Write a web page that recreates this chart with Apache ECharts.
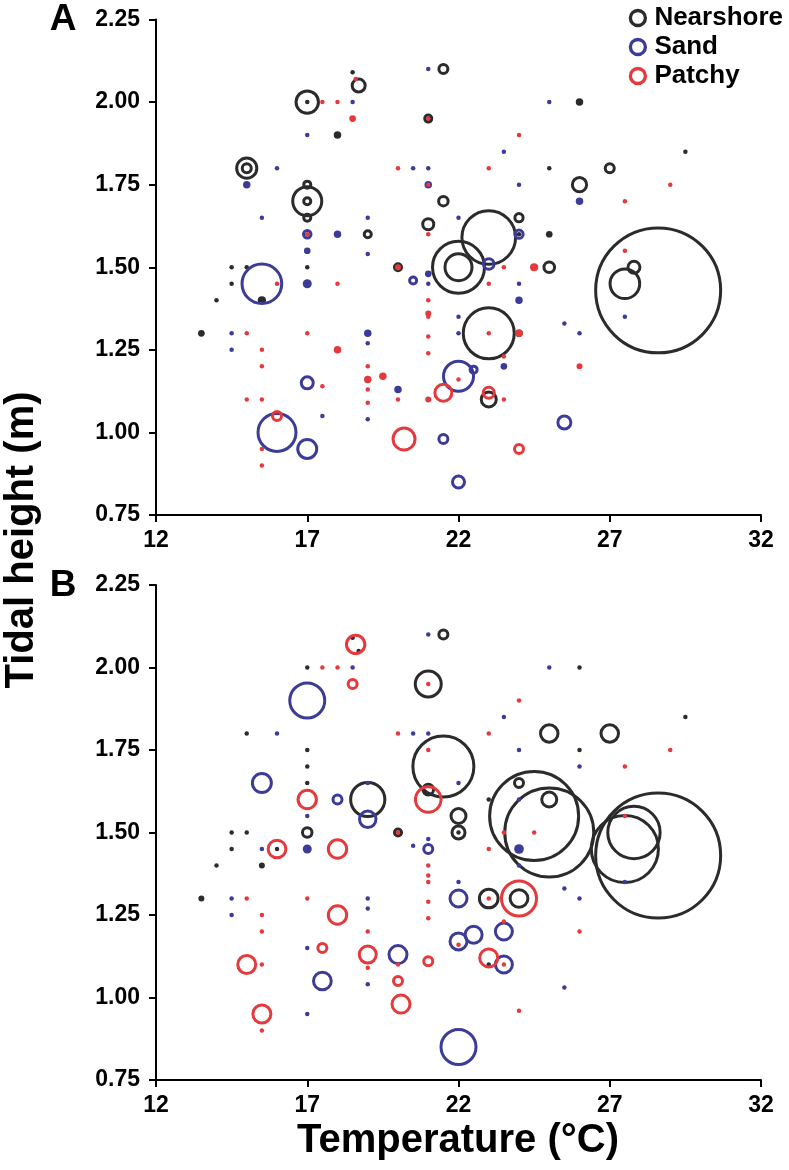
<!DOCTYPE html>
<html>
<head>
<meta charset="utf-8">
<script src="https://cdn.jsdelivr.net/npm/echarts@6/dist/echarts.min.js"></script>
<style>
html,body{margin:0;padding:0;background:#fff;}
#chart{width:789px;height:1170px;}
</style>
</head>
<body>
<div id="chart"></div>
<script>
// [temperature °C, tidal height m, abundance]
const seriesNames = ['Nearshore', 'Sand', 'Patchy'];
const xTicks = { min: 12, max: 32, step: 5 };
const yTicks = { min: 0.75, max: 2.25, step: 0.25 };

const nearshoreA = [
[18.5,2.09,1],[18.7,2.05,75],[17,2.00,223],[17,2.00,1],[21.5,2.10,36],[18,1.90,9],
[15,1.80,180],[15,1.80,36],[17,1.70,374],[17,1.70,22],[17,1.75,22],[17,1.65,22],
[21.5,1.70,40],[21,1.63,54],[19,1.60,22],[21,1.95,22],[20,1.50,22],
[14.5,1.50,1],[15,1.50,1],[17,1.50,1],[14.5,1.45,1],[14,1.40,1],[15.5,1.40,12],[13.5,1.30,6],
[26,2.00,9],[29.5,1.85,1],[25,1.80,1],[27,1.80,36],[26,1.75,90],[24,1.65,30],
[23,1.59,1280],[25,1.60,6],[22,1.50,1200],[22,1.50,324],[25,1.50,50],[27.8,1.50,64],
[27.5,1.45,390],[28.6,1.43,6944],[23,1.30,1156],[24,1.30,9],[23,1.10,100],[24,1.60,1]
];
const sandA = [
[21,2.10,1],[18.5,2.00,1],[17,1.90,1],[16,1.80,1],[20.5,1.80,1],[21,1.80,1],
[15,1.75,9],[21,1.75,9],[15.5,1.65,1],[19,1.65,1],[17,1.60,25],[18,1.60,9],
[17,1.55,6],[19,1.54,1],[15.5,1.45,700],[17,1.45,16],[20.5,1.46,22],[21,1.48,6],[21,1.45,1],
[14.5,1.30,1],[19,1.30,9],[19,1.27,1],[14.5,1.25,1],[17,1.15,64],[20,1.13,9],
[17.5,1.05,1],[19,1.04,1],[16,1.00,640],[17,0.95,160],[21.5,0.98,36],[22,0.85,64],
[25,2.00,1],[23.5,1.85,1],[24,1.75,1],[26,1.70,9],[22,1.65,1],[24,1.60,30],[23,1.51,50],
[24,1.45,1],[24,1.40,9],[22,1.35,1],[22,1.30,1],[25.5,1.33,1],[26,1.30,1],[27.5,1.35,1],
[23.5,1.20,6],[22,1.17,400],[22.5,1.19,22],[25.5,1.03,75]
];
const patchyA = [
[18.6,2.07,1],[17.5,2.00,1],[18,2.00,1],[18.5,1.95,6],[21,1.95,1],[20,1.80,1],[21,1.75,1],
[21,1.60,1],[17,1.60,1],[20,1.50,4],[16,1.45,1],[18,1.45,1],
[21,1.40,1],[21,1.36,4],[21,1.35,1],[21,1.29,1],[21,1.24,1],
[15,1.30,1],[17,1.30,1],[15.5,1.25,1],[18,1.25,9],[15.5,1.20,1],[17.5,1.14,1],
[19,1.20,1],[19,1.16,9],[19.5,1.17,9],[19,1.13,1],[19,1.09,1],[20,1.10,1],
[21.5,1.12,128],[21,1.10,4],[15,1.10,1],[15.5,1.10,1],[16,1.05,36],[15.5,0.95,1],[15.5,0.90,1],
[20.2,0.98,215],
[24,1.90,1],[23,1.80,1],[29,1.75,1],[27.5,1.70,1],[27.5,1.55,1],[23.5,1.50,1],[24.5,1.50,12],
[23,1.45,1],[23,1.30,1],[24,1.30,9],[23.5,1.23,1],[26,1.20,4],[22,1.16,1],[23,1.12,54],
[23.5,1.10,1],[24,0.95,36]
];
const nearshoreB = [
[18.5,2.09,1],[18.7,2.05,1],[21.5,2.10,36],[17,2.00,1],[21,1.95,300],[26,2.00,1],
[15,1.80,1],[25,1.80,136],[27,1.80,136],[29.5,1.85,1],[26,1.75,1],
[17,1.75,1],[17,1.70,1],[17,1.65,1],[21.5,1.70,1654],[19,1.60,520],[21,1.63,50],
[22,1.55,100],[22,1.50,75],[22,1.50,1],[17,1.50,40],[20,1.50,22],
[14.5,1.50,1],[15,1.50,1],[14.5,1.45,1],[14,1.40,1],[15.5,1.40,4],[13.5,1.30,4],[16,1.45,1],
[24,1.65,36],[25,1.60,100],[24.5,1.55,3520],[25,1.50,3520],[23,1.60,1],
[23,1.30,155],[24,1.30,140],[28.6,1.43,6944],[27.5,1.45,2000],[27.8,1.50,1217],[23,1.10,1]
];
const sandB = [
[21,2.10,1],[18.5,2.00,1],[17,1.90,544],[16,1.80,1],[20.5,1.80,1],[21,1.80,1],
[15.5,1.65,160],[22,1.65,1],[19,1.65,1],[18,1.60,36],[19,1.54,120],[17,1.55,1],
[17,1.45,16],[15.5,1.45,1],[20.5,1.46,1],[21,1.48,1],[21,1.45,36],
[14.5,1.30,1],[19,1.30,1],[19,1.27,1],[14.5,1.25,1],[17,1.15,1],[20,1.13,144],
[17.5,1.05,140],[19,1.04,1],[17,0.95,1],[22,0.85,544],
[25,2.00,1],[23.5,1.85,1],[24,1.75,1],[26,1.70,1],[24,1.60,1],[24,1.45,20],[24,1.40,1],
[22,1.35,1],[22,1.30,128],[25.5,1.33,1],[26,1.30,1],[27.5,1.35,1],
[23.5,1.20,128],[22.5,1.19,128],[22,1.17,128],[23.5,1.10,128],[25.5,1.03,1]
];
const patchyB = [
[18.6,2.07,150],[17.5,2.00,1],[18,2.00,1],[18.5,1.95,36],[21,1.95,1],
[24,1.90,1],[23,1.80,1],[29,1.75,1],[27.5,1.70,1],[20,1.80,1],[21,1.75,1],
[17,1.60,150],[21,1.60,290],[20,1.50,1],[23.5,1.50,1],[24.5,1.50,1],[23,1.45,1],[27.5,1.55,1],
[16,1.45,140],[18,1.45,150],[15,1.30,1],[17,1.30,1],
[21,1.40,1],[21,1.37,1],[21,1.35,1],[21,1.29,1],[21,1.24,1],
[15.5,1.25,1],[18,1.25,150],[15.5,1.20,1],[19,1.20,1],[17.5,1.15,36],[19,1.13,128],
[19,1.09,1],[20,1.10,1],[21,1.11,36],[15,1.10,144],[15.5,1.10,1],[20,1.05,36],
[20.1,0.98,144],[15.5,0.95,144],[15.5,0.90,1],[23,1.30,1],[24,1.30,544],
[23.5,1.23,1],[26,1.20,1],[22,1.16,1],[23,1.12,144],[23.5,1.10,1],[24,0.96,1]
];

const colors = { Nearshore: '#2b2b2b', Sand: '#3c3c98', Patchy: '#e5393c' };
const FONT = "'Liberation Sans', Arial, Helvetica, sans-serif";
const RING = 3;
const SOLID_MAX = 20; // small abundances are drawn as solid dots

function toItems(data, name) {
  return data.map(d => {
    const s = 1.5 * Math.sqrt(d[2]);
    if (d[2] <= SOLID_MAX) {
      return { value: d, symbolSize: s + RING,
        itemStyle: { color: colors[name], borderWidth: 0 } };
    }
    return { value: d, symbolSize: s };
  });
}

function xAxis(idx) {
  return {
    type: 'value', gridIndex: idx, min: xTicks.min, max: xTicks.max, interval: xTicks.step,
    splitLine: { show: false },
    axisLine: { show: true, onZero: false, lineStyle: { color: '#000', width: 2 } },
    axisTick: { show: true, length: 7, lineStyle: { color: '#000', width: 2 } },
    axisLabel: { color: '#000', fontSize: 23, fontWeight: 'bold', fontFamily: FONT, margin: 14 }
  };
}
function yAxis(idx) {
  return {
    type: 'value', gridIndex: idx, min: yTicks.min, max: yTicks.max, interval: yTicks.step,
    splitLine: { show: false },
    axisLine: { show: true, onZero: false, lineStyle: { color: '#000', width: 2 } },
    axisTick: { show: true, length: 7, lineStyle: { color: '#000', width: 2 } },
    axisLabel: { color: '#000', fontSize: 23, fontWeight: 'bold', fontFamily: FONT, margin: 16,
      formatter: v => v.toFixed(2) }
  };
}
function sc(name, data, idx) {
  return {
    type: 'scatter', name, data: toItems(data, name), xAxisIndex: idx, yAxisIndex: idx,
    symbol: 'circle',
    itemStyle: { color: 'rgba(0,0,0,0)', borderColor: colors[name], borderWidth: RING, opacity: 1 },
    emphasis: { disabled: true }, silent: true, animation: false
  };
}

const chart = echarts.init(document.getElementById('chart'), null, { renderer: 'canvas' });
chart.setOption({
  backgroundColor: '#fff',
  animation: false,
  grid: [
    { left: 156, top: 19.5, width: 605, height: 495.5 },
    { left: 156, top: 585, width: 605, height: 495 }
  ],
  xAxis: [xAxis(0), xAxis(1)],
  yAxis: [yAxis(0), yAxis(1)],
  legend: {
    orient: 'vertical', align: 'left', right: 6, top: 5, itemGap: 3, itemWidth: 15, itemHeight: 15,
    icon: 'circle', selectedMode: false, padding: 0,
    textStyle: { color: '#000', fontSize: 26, fontWeight: 'bold', fontFamily: FONT, lineHeight: 20, padding: [0, 0, 0, 4] },
    data: seriesNames.map(n => ({ name: n, itemStyle: { color: 'rgba(0,0,0,0)', borderColor: colors[n], borderWidth: 3.3 } }))
  },
  graphic: [
    { type: 'text', x: 22, y: 540, rotation: Math.PI / 2,
      style: { text: 'Tidal height (m)', fill: '#000', font: "bold 40px " + FONT,
        align: 'center', verticalAlign: 'middle', textAlign: 'center', textVerticalAlign: 'middle' } },
    { type: 'text', x: 458, y: 1141,
      style: { text: 'Temperature (°C)', fill: '#000', font: "bold 40px " + FONT,
        align: 'center', verticalAlign: 'middle', textAlign: 'center', textVerticalAlign: 'middle' } },
    { type: 'text', x: 63, y: 20,
      style: { text: 'A', fill: '#000', font: "bold 37px " + FONT,
        align: 'center', verticalAlign: 'middle', textAlign: 'center', textVerticalAlign: 'middle' } },
    { type: 'text', x: 63, y: 586,
      style: { text: 'B', fill: '#000', font: "bold 37px " + FONT,
        align: 'center', verticalAlign: 'middle', textAlign: 'center', textVerticalAlign: 'middle' } }
  ],
  series: [
    sc('Nearshore', nearshoreA, 0), sc('Sand', sandA, 0), sc('Patchy', patchyA, 0),
    sc('Nearshore', nearshoreB, 1), sc('Sand', sandB, 1), sc('Patchy', patchyB, 1)
  ]
});
</script>
</body>
</html>
